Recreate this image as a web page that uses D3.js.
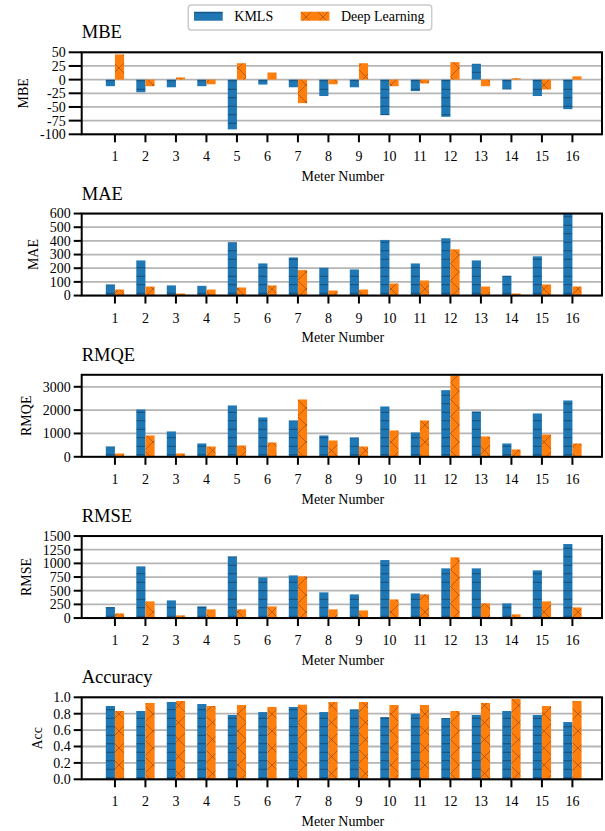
<!DOCTYPE html>
<html><head><meta charset="utf-8">
<script src="https://cdn.jsdelivr.net/npm/d3@7"></script>
<style>
body{margin:0;background:#fff;}
text{font-family:"Liberation Serif","Times New Roman",serif;fill:#000;}
</style>
</head><body>
<svg id="chart" width="605" height="831"></svg>
<script>
// ---- data ----
const meters = [1,2,3,4,5,6,7,8,9,10,11,12,13,14,15,16];
const seriesNames = ["KMLS","Deep Learning"];

const mbeKMLS = [-12,-23,-14,-12,-91,-9,-14,-30,-14,-65,-21,-68,29,-18,-30,-54];
const mbeDL   = [46,-12,4,-8.5,30,13,-43,-8.5,30,-12,-7,32,-12,2.5,-18,6];

const maeKMLS = [81,257,74,71,390,235,279,203,191,407,235,419,257,145,287,600];
const maeDL   = [44,66,15,44,59,74,186,37,44,88,110,338,66,15,81,66];

const rmqeKMLS = [443,2029,1086,571,2200,1686,1557,914,829,2157,1043,2857,1943,571,1857,2414];
const rmqeDL   = [143,914,143,443,486,614,2457,700,443,1129,1557,3480,871,314,957,571];

const rmseKMLS = [201,945,323,213,1128,744,780,470,433,1061,451,909,909,268,872,1354];
const rmseDL   = [85,305,49,159,159,213,762,159,140,341,433,1110,268,67,305,195];

const accKMLS = [0.894,0.833,0.943,0.918,0.784,0.820,0.882,0.820,0.853,0.759,0.800,0.747,0.784,0.833,0.784,0.698];
const accDL   = [0.833,0.931,0.955,0.894,0.906,0.882,0.910,0.943,0.943,0.906,0.906,0.833,0.931,0.980,0.894,0.955];

const mbeTicks  = [50,25,0,-25,-50,-75,-100];
const maeTicks  = [0,100,200,300,400,500,600];
const rmqeTicks = [0,1000,2000,3000];
const rmseTicks = [0,250,500,750,1000,1250,1500];
const accTicks  = [0,0.2,0.4,0.6,0.8,1.0];

const titles  = ["MBE","MAE","RMQE","RMSE","Accuracy"];
const ylabels = ["MBE","MAE","RMQE","RMSE","Acc"];
const xLabel = "Meter Number";

// ---- panel build (values from the arrays above) ----
const panels = [
  {title:titles[0], ylabel:ylabels[0], a:mbeKMLS,  b:mbeDL,  ticks:mbeTicks,  domain:[-100,50], fmt:d=>String(d), tickLen:13},
  {title:titles[1], ylabel:ylabels[1], a:maeKMLS,  b:maeDL,  ticks:maeTicks,  domain:[0,600],   fmt:d=>String(d), tickLen:8},
  {title:titles[2], ylabel:ylabels[2], a:rmqeKMLS, b:rmqeDL, ticks:rmqeTicks, domain:[0,3514],  fmt:d=>String(d), tickLen:8},
  {title:titles[3], ylabel:ylabels[3], a:rmseKMLS, b:rmseDL, ticks:rmseTicks, domain:[0,1500],  fmt:d=>String(d), tickLen:8},
  {title:titles[4], ylabel:ylabels[4], a:accKMLS,  b:accDL,  ticks:accTicks,  domain:[0,1],     fmt:d3.format(".1f"), tickLen:8}
];

const colors = ["#1f77b4","#ff7f0e"];
const FS = 14;
const left = 81.7, right = 602, panelH = 82, top0 = 52.3, step = 161.25;
const barW = 0.3;

const svg = d3.select("#chart");
const defs = svg.append("defs");

// hatch patterns
const hH = 8.5;
const pH = defs.append("pattern").attr("id","hatchH").attr("patternUnits","userSpaceOnUse")
  .attr("width",hH).attr("height",hH);
pH.append("rect").attr("width",hH).attr("height",hH).attr("fill",colors[0]);
pH.append("line").attr("x1",0).attr("x2",hH).attr("y1",hH/2).attr("y2",hH/2)
  .attr("stroke","rgba(0,0,0,0.35)").attr("stroke-width",1);

const hX = 17;
const pX = defs.append("pattern").attr("id","hatchX").attr("patternUnits","userSpaceOnUse")
  .attr("width",hX).attr("height",hX);
pX.append("rect").attr("width",hX).attr("height",hX).attr("fill",colors[1]);
pX.append("path").attr("d",`M0,0L${hX},${hX}M${hX},0L0,${hX}`)
  .attr("stroke","rgba(90,40,0,0.4)").attr("stroke-width",1).attr("fill","none");
const fills = ["url(#hatchH)","url(#hatchX)"];

const x = d3.scaleLinear().domain([-0.09,16.97]).range([left,right]);

panels.forEach((p,i)=>{
  const top = top0 + i*step, bottom = top + panelH;
  const y = d3.scaleLinear().domain(p.domain).range([bottom,top]);
  const g = svg.append("g");

  defs.append("clipPath").attr("id","clip"+i).append("rect")
    .attr("x",left).attr("y",top).attr("width",right-left).attr("height",panelH);

  // title
  g.append("text").attr("x",left).attr("y",top-14).attr("font-size",18.5).text(p.title);

  // grid
  g.selectAll(".grid").data(p.ticks).join("line")
    .attr("x1",left).attr("x2",right).attr("y1",d=>y(d)).attr("y2",d=>y(d))
    .attr("stroke","#b5b5b5").attr("stroke-width",1.8);

  // bars
  const bars = g.append("g").attr("clip-path",`url(#clip${i})`);
  [p.a,p.b].forEach((vals,s)=>{
    bars.selectAll(null).data(meters).join("rect")
      .attr("x",m=> s===0 ? x(m-barW) : x(m))
      .attr("width",m=> s===0 ? x(m)-x(m-barW) : x(m+barW)-x(m))
      .attr("y",(m,k)=>y(Math.max(0,vals[k])))
      .attr("height",(m,k)=>Math.abs(y(0)-y(vals[k])))
      .attr("fill",fills[s]);
  });

  // frame
  g.append("rect").attr("x",left).attr("y",top).attr("width",right-left).attr("height",panelH)
    .attr("fill","none").attr("stroke","#000").attr("stroke-width",2);

  // y ticks
  g.selectAll(null).data(p.ticks).join("line")
    .attr("x1",left-p.tickLen).attr("x2",left).attr("y1",d=>y(d)).attr("y2",d=>y(d))
    .attr("stroke","#000").attr("stroke-width",2);
  const yl = g.append("g");
  yl.selectAll("text").data(p.ticks).join("text")
    .attr("x",left-p.tickLen-3).attr("y",d=>y(d)).attr("dy","0.35em")
    .attr("text-anchor","end").attr("font-size",FS).text(p.fmt);

  // x ticks
  g.selectAll(null).data(meters).join("line")
    .attr("x1",d=>x(d)).attr("x2",d=>x(d)).attr("y1",bottom).attr("y2",bottom+8)
    .attr("stroke","#000").attr("stroke-width",2);
  g.selectAll(null).data(meters).join("text")
    .attr("x",d=>x(d)).attr("y",bottom+27).attr("text-anchor","middle")
    .attr("font-size",FS).text(d=>d);

  // x label
  g.append("text").attr("x",(left+right)/2+1).attr("y",bottom+46.7).attr("text-anchor","middle")
    .attr("font-size",FS).text(xLabel);

  // y label
  const bb = yl.node().getBBox();
  const lx = bb.x - 16.6, ly = (top+bottom)/2;
  g.append("text").attr("transform",`translate(${lx},${ly}) rotate(-90)`)
    .attr("text-anchor","middle").attr("dy","0.35em").attr("font-size",FS).text(p.ylabel);
});

// legend
const lg = svg.append("g");
lg.append("rect").attr("x",188.3).attr("y",5).attr("width",243.4).attr("height",25)
  .attr("rx",3).attr("fill","#fff").attr("stroke","#cccccc").attr("stroke-width",1.5);
const legendX = [194, 300.7];
seriesNames.forEach((n,s)=>{
  lg.append("rect").attr("x",legendX[s]).attr("y",11.7).attr("width",28.7).attr("height",9)
    .attr("fill",fills[s]);
  lg.append("text").attr("x",legendX[s]+40.3).attr("y",20.7).attr("font-size",FS).text(n);
});
</script>
</body></html>
